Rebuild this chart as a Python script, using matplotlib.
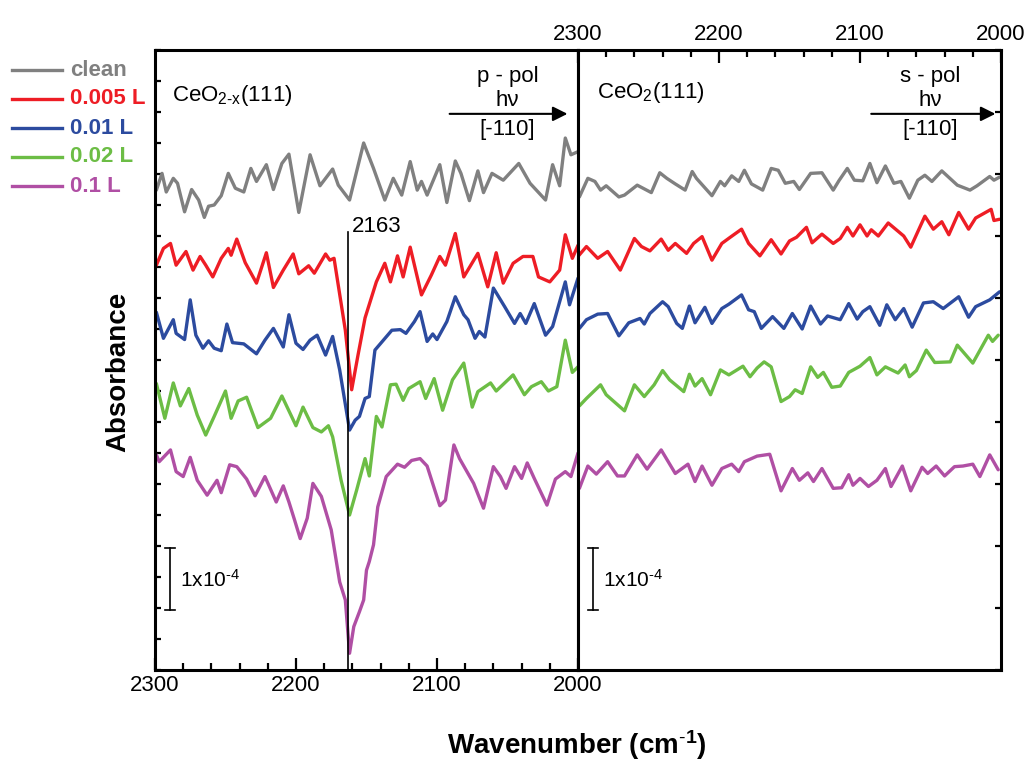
import numpy as np
import matplotlib
matplotlib.use("Agg")
import matplotlib.pyplot as plt
from matplotlib.ticker import MultipleLocator
from matplotlib.lines import Line2D

plt.rcParams['font.family'] = ['Liberation Sans', 'DejaVu Sans']
plt.rcParams['mathtext.fontset'] = 'custom'
plt.rcParams['mathtext.rm'] = 'Liberation Sans'
plt.rcParams['mathtext.it'] = 'Liberation Sans:italic'
plt.rcParams['mathtext.bf'] = 'Liberation Sans:bold'

# absorbance in units of 1e-4 (offset traces), wavenumber in cm-1
# ---- CeO2-x(111), p-pol ----
p_clean_wn = [2299, 2295, 2292, 2287, 2284, 2279, 2274, 2269, 2265, 2262, 2258, 2253, 2248, 2243, 2237, 2232,
              2228, 2221, 2216, 2210, 2205, 2198, 2190, 2183, 2174, 2170, 2162, 2152, 2145, 2137, 2131, 2125,
              2119, 2114, 2111, 2107, 2098, 2093, 2087, 2083, 2077, 2071, 2067, 2061, 2053, 2042, 2034, 2023,
              2018, 2013, 2009, 2005, 2000]
p_clean_abs = [7.74, 8.01, 7.71, 7.93, 7.85, 7.39, 7.75, 7.58, 7.30, 7.48, 7.50, 7.65, 8.01, 7.77, 7.71, 8.09,
               7.88, 8.15, 7.75, 8.17, 8.32, 7.38, 8.31, 7.81, 8.08, 7.82, 7.58, 8.50, 8.09, 7.58, 7.93, 7.66,
               8.20, 7.74, 7.88, 7.66, 8.15, 7.54, 8.21, 8.01, 7.57, 8.05, 7.70, 8.01, 7.90, 8.17, 7.85, 7.58,
               8.15, 7.81, 8.58, 8.31, 8.36]

p_005_wn = [2299, 2294, 2289, 2285, 2278, 2273, 2268, 2264, 2259, 2253, 2248, 2246, 2242, 2236, 2228, 2221,
            2216, 2209, 2202, 2198, 2191, 2187, 2179, 2176, 2173, 2165, 2160.5, 2156, 2151, 2143, 2137, 2133,
            2128, 2124, 2119, 2111, 2104, 2098, 2094, 2087, 2081, 2071, 2064, 2058, 2053, 2046, 2039, 2032,
            2028, 2020, 2013, 2009, 2004, 2000]
p_005_abs = [6.53, 6.80, 6.88, 6.53, 6.75, 6.45, 6.67, 6.53, 6.34, 6.64, 6.80, 6.69, 6.95, 6.57, 6.24, 6.73,
             6.17, 6.45, 6.71, 6.39, 6.52, 6.40, 6.71, 6.61, 6.64, 5.48, 4.52, 5.08, 5.68, 6.26, 6.56, 6.26,
             6.68, 6.34, 6.82, 6.05, 6.37, 6.67, 6.53, 7.04, 6.34, 6.72, 6.18, 6.73, 6.24, 6.56, 6.67, 6.67,
             6.34, 6.26, 6.45, 7.02, 6.64, 6.85]

p_001_wn = [2299, 2294, 2287, 2285, 2279, 2275, 2271, 2266, 2262, 2258, 2253, 2249, 2245, 2237, 2228, 2222,
            2216, 2209, 2205, 2200, 2195, 2190, 2185, 2179, 2174, 2169, 2162, 2158, 2155, 2151, 2148, 2144,
            2132, 2126, 2122, 2116, 2112, 2107, 2103, 2100, 2093, 2087, 2081, 2078, 2073, 2070, 2066, 2060,
            2052, 2045, 2041, 2037, 2031, 2023, 2018, 2009, 2006, 2000]
p_001_abs = [5.77, 5.35, 5.65, 5.43, 5.33, 5.97, 5.40, 5.19, 5.31, 5.19, 5.15, 5.58, 5.28, 5.26, 5.10, 5.32,
             5.51, 5.21, 5.73, 5.27, 5.17, 5.32, 5.40, 5.08, 5.38, 4.84, 3.87, 4.03, 4.09, 4.38, 4.41, 5.16,
             5.48, 5.49, 5.43, 5.62, 5.78, 5.30, 5.42, 5.33, 5.62, 6.02, 5.73, 5.65, 5.35, 5.46, 5.37, 6.16,
             5.86, 5.59, 5.75, 5.59, 5.91, 5.40, 5.54, 6.26, 5.89, 6.32]

p_002_wn = [2299, 2293, 2287, 2282, 2276, 2270, 2264, 2258, 2250, 2246, 2241, 2235, 2227, 2218, 2210, 2200,
            2195, 2188, 2182, 2177, 2174, 2168, 2162, 2157, 2151, 2148, 2143, 2139, 2133, 2129, 2124, 2120,
            2112, 2108, 2102, 2096, 2089, 2081, 2075, 2071, 2062, 2058, 2046, 2038, 2033, 2026, 2021, 2015,
            2009, 2004, 2000]
p_002_abs = [4.62, 4.06, 4.63, 4.26, 4.54, 4.11, 3.79, 4.09, 4.50, 4.06, 4.34, 4.40, 3.91, 4.06, 4.42, 3.94,
             4.24, 3.91, 3.84, 3.94, 3.76, 3.06, 2.50, 2.90, 3.41, 3.13, 4.09, 3.92, 4.60, 4.61, 4.35, 4.54,
             4.65, 4.38, 4.70, 4.19, 4.68, 4.95, 4.24, 4.49, 4.63, 4.50, 4.76, 4.44, 4.57, 4.65, 4.50, 4.57,
             5.32, 4.80, 4.89]

p_01_wn = [2299, 2297, 2289, 2285, 2280, 2275, 2270, 2263, 2256, 2253, 2247, 2242, 2235, 2229, 2222, 2214,
           2209, 2205, 2201, 2197, 2192, 2188, 2182, 2175, 2169, 2165, 2162, 2159, 2155, 2152, 2150, 2148,
           2145, 2142, 2136, 2128, 2123, 2118, 2112, 2107, 2098, 2094, 2088, 2084, 2074, 2067, 2060, 2055,
           2051, 2045, 2040, 2036, 2031, 2022, 2016, 2009, 2005, 2000]
p_01_abs = [3.47, 3.36, 3.55, 3.20, 3.12, 3.43, 3.06, 2.82, 3.06, 2.86, 3.31, 3.28, 3.08, 2.81, 3.12, 2.71,
            2.97, 2.71, 2.42, 2.12, 2.45, 3.01, 2.80, 2.26, 1.42, 1.13, 0.27, 0.70, 0.94, 1.13, 1.61, 1.75,
            2.02, 2.63, 3.12, 3.32, 3.27, 3.38, 3.41, 3.29, 2.65, 2.74, 3.63, 3.41, 3.01, 2.61, 3.28, 3.12,
            2.93, 3.28, 3.09, 3.34, 3.09, 2.66, 3.08, 3.20, 3.12, 3.50]

# ---- CeO2(111), s-pol ----
s_clean_wn = [2299, 2293, 2288, 2284, 2280, 2271, 2267, 2258, 2248, 2242, 2237, 2231, 2224, 2219, 2216, 2205,
              2199, 2196, 2191, 2186, 2182, 2177, 2169, 2163, 2158, 2153, 2147, 2143, 2135, 2127, 2119, 2115,
              2109, 2104, 2098, 2093, 2088, 2082, 2076, 2071, 2065, 2059, 2054, 2049, 2042, 2031, 2022, 2017,
              2008, 2005, 2001]
s_clean_abs = [7.63, 7.93, 7.88, 7.74, 7.81, 7.63, 7.66, 7.82, 7.70, 8.02, 7.93, 7.84, 7.74, 8.04, 7.93, 7.65,
               7.88, 7.81, 7.97, 7.88, 8.06, 7.84, 7.74, 8.09, 8.06, 7.85, 7.88, 7.75, 8.01, 8.02, 7.74, 7.89,
               8.09, 7.90, 7.89, 8.17, 7.86, 8.13, 7.85, 7.88, 7.61, 7.90, 7.98, 7.88, 8.05, 7.82, 7.74, 7.81,
               7.96, 7.90, 7.95]

s_005_wn = [2300, 2294, 2286, 2279, 2270, 2260, 2255, 2249, 2241, 2236, 2231, 2223, 2218, 2212, 2205, 2198,
            2192, 2184, 2179, 2171, 2163, 2156, 2150, 2145, 2138, 2134, 2127, 2119, 2114, 2109, 2105, 2100,
            2095, 2092, 2087, 2080, 2069, 2064, 2054, 2048, 2042, 2037, 2030, 2023, 2018, 2007, 2005, 2001]
s_005_abs = [6.67, 6.83, 6.64, 6.75, 6.45, 6.96, 6.83, 6.76, 6.95, 6.77, 6.88, 6.72, 6.88, 6.99, 6.61, 6.88,
             6.98, 7.11, 6.88, 6.68, 6.94, 6.71, 6.92, 6.98, 7.14, 6.89, 7.03, 6.88, 6.96, 7.14, 7.00, 7.18,
             7.00, 7.10, 7.00, 7.21, 7.00, 6.82, 7.32, 7.11, 7.23, 7.02, 7.38, 7.11, 7.29, 7.43, 7.25, 7.27]

s_001_wn = [2299, 2294, 2286, 2279, 2271, 2264, 2256, 2253, 2249, 2240, 2236, 2230, 2226, 2221, 2217, 2210,
            2205, 2198, 2193, 2184, 2179, 2175, 2170, 2162, 2154, 2148, 2141, 2135, 2128, 2123, 2114, 2108,
            2102, 2098, 2093, 2086, 2081, 2075, 2069, 2063, 2055, 2048, 2041, 2030, 2023, 2018, 2008, 2001]
s_001_abs = [5.51, 5.65, 5.74, 5.75, 5.39, 5.60, 5.67, 5.58, 5.75, 5.94, 5.86, 5.59, 5.51, 5.87, 5.60, 5.85,
             5.59, 5.83, 5.90, 6.05, 5.81, 5.78, 5.51, 5.70, 5.51, 5.75, 5.50, 5.87, 5.58, 5.71, 5.65, 5.91,
             5.66, 5.78, 5.86, 5.56, 5.89, 5.65, 5.83, 5.53, 5.92, 5.94, 5.83, 6.02, 5.69, 5.86, 5.97, 6.10]

s_002_wn = [2299, 2294, 2284, 2280, 2273, 2267, 2260, 2253, 2246, 2240, 2235, 2225, 2221, 2217, 2212, 2206,
            2199, 2193, 2183, 2178, 2173, 2168, 2163, 2156, 2150, 2146, 2141, 2135, 2130, 2126, 2120, 2114,
            2108, 2100, 2093, 2088, 2082, 2073, 2068, 2065, 2060, 2053, 2047, 2036, 2031, 2020, 2009, 2006,
            2002]
s_002_abs = [4.26, 4.38, 4.60, 4.44, 4.30, 4.18, 4.60, 4.41, 4.60, 4.83, 4.68, 4.49, 4.77, 4.58, 4.70, 4.44,
             4.84, 4.76, 4.90, 4.73, 4.87, 4.97, 4.89, 4.33, 4.41, 4.52, 4.46, 4.89, 4.72, 4.80, 4.56, 4.58,
             4.80, 4.90, 5.04, 4.76, 4.89, 4.79, 4.92, 4.73, 4.83, 5.16, 4.96, 4.97, 5.24, 4.95, 5.40, 5.30,
             5.40]

s_01_wn = [2299, 2293, 2287, 2279, 2272, 2267, 2258, 2251, 2241, 2231, 2222, 2217, 2212, 2205, 2198, 2191,
           2186, 2182, 2173, 2164, 2156, 2148, 2143, 2137, 2133, 2127, 2119, 2113, 2108, 2105, 2100, 2094,
           2088, 2082, 2078, 2070, 2064, 2056, 2052, 2046, 2040, 2033, 2027, 2020, 2015, 2008, 2002]
s_01_abs = [2.93, 3.29, 3.16, 3.36, 3.13, 3.13, 3.47, 3.24, 3.55, 3.17, 3.32, 3.04, 3.29, 2.98, 3.25, 3.32,
            3.20, 3.36, 3.45, 3.48, 2.89, 3.25, 3.06, 3.18, 3.04, 3.25, 2.93, 2.94, 3.15, 2.98, 3.09, 2.96,
            3.06, 3.25, 2.96, 3.29, 2.89, 3.27, 3.17, 3.29, 3.13, 3.28, 3.29, 3.32, 3.12, 3.47, 3.23]

labels = ['clean', '0.005 L', '0.01 L', '0.02 L', '0.1 L']
colors = ['#808080', '#ee1d25', '#2c4b9f', '#6cbd45', '#b04fa4']
peak_wn = 2163

p_series = [(p_clean_wn, p_clean_abs), (p_005_wn, p_005_abs), (p_001_wn, p_001_abs),
            (p_002_wn, p_002_abs), (p_01_wn, p_01_abs)]
s_series = [(s_clean_wn, s_clean_abs), (s_005_wn, s_005_abs), (s_001_wn, s_001_abs),
            (s_002_wn, s_002_abs), (s_01_wn, s_01_abs)]

fig = plt.figure(figsize=(10.29, 7.62), dpi=100)
ax1 = fig.add_axes([0.1506, 0.1207, 0.4111, 0.8137])
ax2 = fig.add_axes([0.5617, 0.1207, 0.4111, 0.8137])

for (wn, a), c in zip(p_series, colors):
    ax1.plot(wn, a, color=c, lw=2.4, solid_joinstyle='round', solid_capstyle='round')
for (wn, a), c in zip(s_series, colors):
    ax2.plot(wn, a, color=c, lw=2.4, solid_joinstyle='round', solid_capstyle='round')

for ax in [ax1, ax2]:
    ax.set_xlim(2300, 2000)
    ax.set_ylim(0, 10)
    for s in ax.spines.values():
        s.set_linewidth(2.2)
    ax.xaxis.set_major_locator(MultipleLocator(100))
    ax.xaxis.set_minor_locator(MultipleLocator(20))
    ax.tick_params(which='both', direction='in', width=1.6, labelsize=16)
    ax.tick_params(which='major', length=9)
    ax.tick_params(which='minor', length=5)

# left panel: bottom x ticks, left y ticks
ax1.yaxis.set_major_locator(MultipleLocator(0.5))
ax1.tick_params(axis='x', which='both', bottom=True, top=False, labelbottom=True)
ax1.tick_params(axis='y', which='both', left=True, right=False, labelleft=False, length=4)
ax1.tick_params(axis='y', which='minor', left=False)

# right panel: top x ticks, right y ticks
ax2.yaxis.set_major_locator(MultipleLocator(1))
ax2.tick_params(axis='x', which='both', bottom=False, top=True, labelbottom=False, labeltop=True)
ax2.tick_params(axis='y', which='both', left=False, right=True, labelleft=False, labelright=False, length=4)
ax2.tick_params(axis='y', which='minor', right=False)

# peak marker
ax1.plot([peak_wn, peak_wn], [0, 7.06], color='k', lw=1.2)
ax1.text(2160.3, 7.16, '2163', fontsize=16, ha='left', va='center')

# sample labels and polarisation
ax1.text(2288, 9.27, r'CeO$_{\mathrm{2\text{-}x}}$(111)', fontsize=16, ha='left', va='center')
ax2.text(2286.5, 9.32, r'CeO$_{\mathrm{2}}$(111)', fontsize=16, ha='left', va='center')
for ax, pol, x0, x1 in [(ax1, 'p - pol', 2093, 2005.5), (ax2, 's - pol', 2094, 2002)]:
    xc = 2050
    ax.text(xc, 9.58, pol, fontsize=16, ha='center', va='center')
    ax.text(xc, 9.19, 'h\u03bd', fontsize=16, ha='center', va='center')
    ax.text(xc, 8.71, '[-110]', fontsize=16, ha='center', va='center')
    ax.annotate('', xy=(x1, 8.97), xytext=(x0, 8.97),
                arrowprops=dict(arrowstyle='-|>', lw=1.5, color='k', mutation_scale=22))

# 1x10^-4 scale bars
for ax in [ax1, ax2]:
    ax.plot([2289.4, 2289.4], [0.97, 1.97], color='k', lw=1.2)
    ax.plot([2293, 2285.8], [1.97, 1.97], color='k', lw=1.2)
    ax.plot([2293, 2285.8], [0.97, 0.97], color='k', lw=1.2)
    ax.text(2282.3, 1.45, r'1x10$^{\text{-}4}$', fontsize=15, ha='left', va='center')

# legend drawn at the left of the figure
for i, (lab, c) in enumerate(zip(labels, colors)):
    yy = 1 - (70 + 29 * i) / 762
    fig.add_artist(Line2D([12 / 1029, 62 / 1029], [yy, yy], color=c, lw=2.4))
    fig.text(70 / 1029, yy, lab, color=c, fontsize=16, fontweight='bold', va='center', ha='left')

fig.text(118 / 1029, 1 - 372 / 762, 'Absorbance', fontsize=20, fontweight='bold',
         rotation=90, ha='center', va='center')
fig.text(577 / 1029, 1 - 745 / 762, r'Wavenumber (cm$^{\mathbf{\text{-}1}}$)', fontsize=20,
         fontweight='bold', ha='center', va='center')

fig.savefig('out.png', dpi=100)
